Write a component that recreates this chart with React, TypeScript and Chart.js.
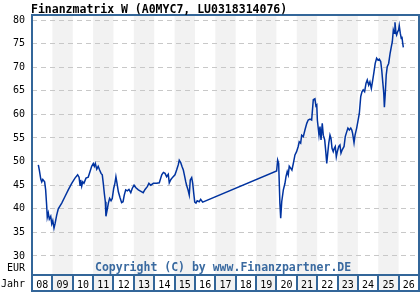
import { useEffect, useRef } from 'react';
import { Chart, registerables } from 'chart.js';

Chart.register(...registerables);

const titleText = 'Finanzmatrix W (A0MYC7, LU0318314076)';
const copyrightText = 'Copyright (C) by www.Finanzpartner.DE';
const unitLabel = 'EUR';
const yearAxisLabel = 'Jahr';

const firstYear = 2008;
const yearLabels = ['08', '09', '10', '11', '12', '13', '14', '15', '16', '17', '18', '19', '20', '21', '22', '23', '24', '25', '26'];
const yTicks = [30, 35, 40, 45, 50, 55, 60, 65, 70, 75, 80];

const dates = [
  2008.31, 2008.36, 2008.43, 2008.48, 2008.53, 2008.62, 2008.67, 2008.72, 2008.75, 2008.80,
  2008.85, 2008.92, 2008.97, 2009.02, 2009.08, 2009.13, 2009.21, 2009.29, 2009.46, 2009.62,
  2009.78, 2009.95, 2010.11, 2010.24, 2010.31, 2010.36, 2010.39, 2010.44, 2010.49, 2010.55,
  2010.65, 2010.76, 2010.85, 2010.93, 2011.01, 2011.06, 2011.11, 2011.18, 2011.25, 2011.32,
  2011.39, 2011.45, 2011.50, 2011.55, 2011.60, 2011.63, 2011.70, 2011.75, 2011.81, 2011.88,
  2011.94, 2012.01, 2012.07, 2012.12, 2012.17, 2012.24, 2012.32, 2012.40, 2012.47, 2012.53,
  2012.60, 2012.68, 2012.76, 2012.85, 2012.92, 2013.01, 2013.09, 2013.22, 2013.39, 2013.46,
  2013.55, 2013.66, 2013.74, 2013.83, 2013.96, 2014.12, 2014.25, 2014.32, 2014.37, 2014.45,
  2014.53, 2014.61, 2014.69, 2014.74, 2014.82, 2014.91, 2015.02, 2015.10, 2015.18, 2015.23,
  2015.30, 2015.36, 2015.43, 2015.48, 2015.55, 2015.59, 2015.66, 2015.72, 2015.77, 2015.84,
  2015.89, 2015.94, 2015.99, 2016.05, 2016.11, 2016.21, 2016.28, 2016.38,
  2020.01, 2020.06, 2020.11, 2020.17, 2020.21, 2020.26, 2020.34, 2020.42, 2020.47, 2020.53,
  2020.58, 2020.63, 2020.70, 2020.76, 2020.83, 2020.91, 2020.99, 2021.07, 2021.12, 2021.19,
  2021.24, 2021.32, 2021.40, 2021.49, 2021.56, 2021.65, 2021.73, 2021.81, 2021.89, 2021.94,
  2021.98, 2022.01, 2022.09, 2022.14, 2022.19, 2022.25, 2022.30, 2022.37, 2022.43, 2022.47,
  2022.52, 2022.57, 2022.63, 2022.68, 2022.73, 2022.79, 2022.84, 2022.89, 2022.94, 2022.99,
  2023.06, 2023.12, 2023.17, 2023.23, 2023.32, 2023.38, 2023.45, 2023.51, 2023.58, 2023.65,
  2023.70, 2023.74, 2023.81, 2023.86, 2023.94, 2024.00, 2024.07, 2024.14, 2024.20, 2024.26,
  2024.33, 2024.40, 2024.46, 2024.53, 2024.59, 2024.66, 2024.73, 2024.79, 2024.85, 2024.92,
  2024.99, 2025.05, 2025.12, 2025.17, 2025.22, 2025.27, 2025.30, 2025.34, 2025.39, 2025.44,
  2025.51, 2025.58, 2025.64, 2025.69, 2025.74, 2025.79, 2025.82, 2025.87, 2025.90, 2025.95,
  2026.00, 2026.03, 2026.08, 2026.13, 2026.16, 2026.20, 2026.23,
];

const prices = [
  49.3, 48.2, 46.3, 45.7, 46.2, 45.7, 44.0, 40.7, 38.2, 39.1,
  37.8, 38.4, 36.8, 37.5, 35.9, 36.8, 38.6, 40.0, 41.2, 42.6,
  44.0, 45.4, 46.5, 47.2, 46.7, 45.0, 46.1, 44.8, 45.7, 45.4,
  46.5, 46.7, 47.9, 49.0, 49.6, 49.0, 49.6, 48.4, 49.0, 48.2,
  47.5, 47.2, 45.4, 43.3, 41.5, 38.4, 40.0, 41.2, 42.2, 41.7,
  42.2, 44.3, 45.4, 46.8, 45.5, 43.6, 42.4, 41.3, 41.5, 42.9,
  44.0, 43.8, 44.1, 43.4, 44.3, 45.0, 44.5, 44.0, 43.6, 43.4,
  44.1, 44.7, 45.4, 45.0, 45.4, 45.4, 45.5, 46.5, 47.2, 47.7,
  47.5, 46.8, 47.3, 45.5, 46.2, 46.7, 47.2, 48.2, 49.3, 50.3,
  49.8, 49.0, 48.2, 47.2, 45.7, 45.0, 44.0, 42.9, 46.1, 46.6,
  45.4, 43.3, 41.4, 41.2, 41.7, 41.5, 42.0, 41.4,
  48.0, 50.3, 49.6, 41.2, 38.0, 41.5, 44.0, 45.4, 46.8, 47.9,
  47.2, 49.0, 48.6, 48.2, 49.6, 51.4, 52.1, 53.2, 54.2, 53.9,
  55.6, 55.3, 56.7, 58.1, 58.8, 59.0, 58.8, 63.1, 63.3, 61.8,
  62.0, 58.8, 55.6, 57.4, 54.6, 58.1, 55.6, 54.6, 51.8, 49.6,
  51.8, 53.9, 55.6, 54.9, 52.8, 52.1, 52.8, 53.2, 51.0, 52.1,
  53.2, 53.5, 51.8, 52.5, 53.2, 55.3, 56.3, 57.1, 56.7, 57.1,
  56.7, 56.0, 54.0, 55.6, 57.1, 58.5, 60.2, 63.8, 64.8, 65.2,
  64.8, 66.6, 67.3, 66.2, 66.9, 65.5, 67.3, 69.0, 70.8, 71.9,
  71.5, 71.7, 71.2, 69.4, 66.9, 64.5, 61.5, 64.1, 68.3, 70.1,
  70.8, 72.9, 74.3, 75.4, 77.9, 77.2, 79.5, 77.2, 76.8, 77.5,
  77.9, 78.8, 77.2, 76.1, 76.5, 75.1, 74.2,
];

const MONO = '"DejaVu Sans Mono", "Liberation Mono", monospace';
const FRAME = '#336699';

export default function App() {
  const ref = useRef<HTMLCanvasElement>(null);

  useEffect(() => {
    if (!ref.current) return;
    const rowHeight = 16;

    const decor = {
      id: 'decor',
      beforeDraw(chart: any) {
        const { ctx, chartArea: a, scales } = chart;
        const x = scales.x;
        const rowBottom = a.bottom + rowHeight;
        ctx.save();
        ctx.fillStyle = '#f2f2f2';
        yearLabels.forEach((_, i) => {
          if (i % 2 === 1) {
            const x0 = x.getPixelForValue(firstYear + i);
            const x1 = x.getPixelForValue(firstYear + i + 1);
            ctx.fillRect(x0, a.top, x1 - x0, rowBottom - a.top);
          }
        });
        ctx.restore();
      },
      afterDraw(chart: any) {
        const { ctx, chartArea: a, scales } = chart;
        const x = scales.x;
        const rowBottom = a.bottom + rowHeight;
        ctx.save();
        ctx.strokeStyle = FRAME;
        ctx.lineWidth = 2;
        ctx.strokeRect(a.left, a.top, a.right - a.left, rowBottom - a.top);
        ctx.beginPath();
        ctx.moveTo(a.left, a.bottom);
        ctx.lineTo(a.right, a.bottom);
        for (let i = 1; i < yearLabels.length; i++) {
          const px = Math.round(x.getPixelForValue(firstYear + i));
          ctx.moveTo(px, a.bottom);
          ctx.lineTo(px, rowBottom);
        }
        ctx.stroke();

        ctx.fillStyle = '#000';
        ctx.font = `bold 11.5px ${MONO}`;
        ctx.textAlign = 'left';
        ctx.textBaseline = 'alphabetic';
        ctx.fillText(titleText, 31, 13);

        ctx.fillStyle = '#3a6aa0';
        ctx.textBaseline = 'middle';
        ctx.fillText(copyrightText, 95, a.bottom - 7);

        ctx.fillStyle = '#000';
        ctx.font = `10px ${MONO}`;
        ctx.textAlign = 'right';
        ctx.fillText(unitLabel, 25, a.bottom - 7);
        ctx.fillText(yearAxisLabel, 25, a.bottom + 9);
        ctx.restore();
      },
    };

    const chart = new Chart(ref.current, {
      type: 'line',
      data: {
        datasets: [
          {
            data: dates.map((d, i) => ({ x: d, y: prices[i] })),
            borderColor: '#0033a0',
            borderWidth: 1.5,
            pointRadius: 0,
            tension: 0,
            fill: false,
          },
        ],
      },
      options: {
        animation: false,
        responsive: false,
        layout: { padding: { top: 15, right: 1, left: 0, bottom: 0 } },
        plugins: { legend: { display: false }, tooltip: { enabled: false }, title: { display: false } },
        scales: {
          x: {
            type: 'linear',
            min: firstYear,
            max: firstYear + yearLabels.length,
            grid: { display: false, drawTicks: false },
            border: { display: false },
            afterBuildTicks: (scale: any) => {
              scale.ticks = yearLabels.map((_, i) => ({ value: firstYear + i + 0.5 }));
            },
            afterFit: (scale: any) => {
              scale.height = 25;
            },
            ticks: {
              autoSkip: false,
              maxRotation: 0,
              padding: 4,
              color: '#000',
              font: { family: MONO, size: 10 },
              callback: (_v: any, i: number) => yearLabels[i],
            },
          },
          y: {
            type: 'linear',
            min: 25.97,
            max: 81.06,
            afterBuildTicks: (scale: any) => {
              scale.ticks = yTicks.map((v) => ({ value: v }));
            },
            afterFit: (scale: any) => {
              scale.width = 32;
            },
            grid: { color: '#c8c8c8', lineWidth: 1, drawTicks: false },
            border: { display: false, dash: [5, 4] },
            ticks: {
              padding: 7,
              color: '#000',
              font: { family: MONO, size: 10 },
              callback: (v: any) => String(v),
            },
          },
        },
      },
      plugins: [decor],
    });
    return () => chart.destroy();
  }, []);

  return (
    <div style={{ position: 'absolute', left: 0, top: 0, width: 420, height: 300, background: '#fff' }}>
      <canvas ref={ref} width={420} height={300} />
    </div>
  );
}
